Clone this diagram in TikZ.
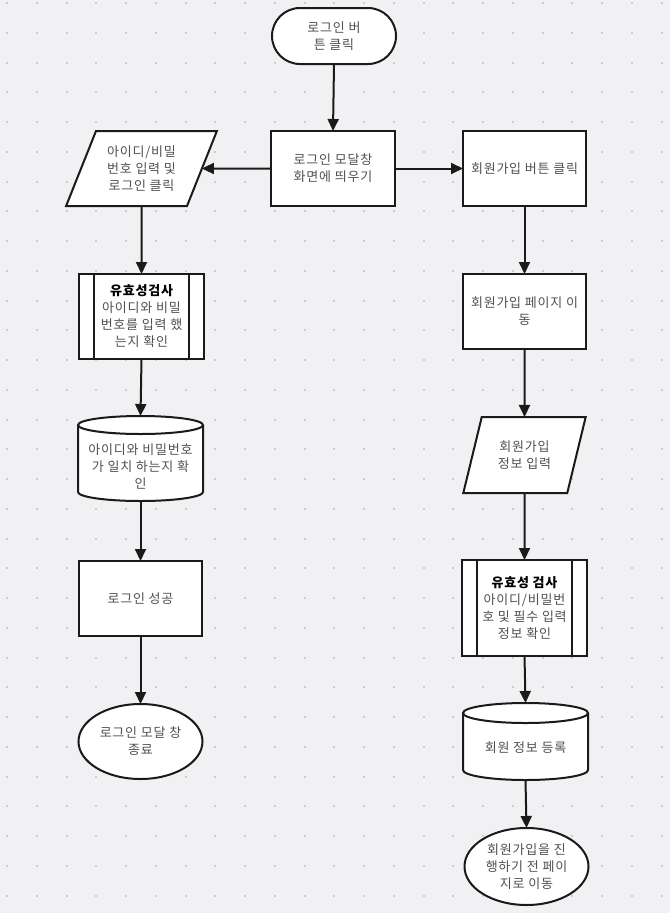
\documentclass[tikz,border=0pt]{standalone}
\usepackage{fontspec}
\setmainfont[LetterSpace=6]{Noto Sans CJK KR}
\usetikzlibrary{arrows.meta,shapes.geometric}
\definecolor{bgc}{HTML}{F1F1F3}
\definecolor{dotc}{HTML}{CDCDD1}
\definecolor{txtc}{HTML}{505050}
\definecolor{lnc}{HTML}{1A1A1A}
\pgfdeclarelayer{back}
\pgfdeclarelayer{shapes}
\pgfsetlayers{back,shapes,main}
\newcommand\drawcyl[3]{% node, half width, cap radius
  \begin{pgfonlayer}{shapes}
  \filldraw[fill=white,draw=lnc,line width=2pt]
    ([yshift=-#3]#1.north west) -- ([yshift=#3]#1.south west)
    arc[start angle=180,end angle=360,x radius=#2,y radius=#3]
    -- ([yshift=-#3]#1.north east)
    arc[start angle=0,end angle=180,x radius=#2,y radius=#3] -- cycle;
  \draw[draw=lnc,line width=2pt] ([yshift=-#3]#1.north west)
    arc[start angle=180,end angle=360,x radius=#2,y radius=#3];
  \end{pgfonlayer}}
\begin{document}
\begin{tikzpicture}[x=1pt,y=-1pt,
  font=\fontsize{13}{17}\selectfont,
  base/.style={draw=lnc,line width=2pt,fill=white,text=txtc,align=center,inner sep=0pt,outer sep=0pt},
  proc/.style={base,rectangle,minimum width=#1,minimum height=75pt},
  term/.style={base,rectangle,rounded corners=28pt,minimum width=124pt,minimum height=56pt},
  oval/.style={base,ellipse,minimum width=124pt,minimum height=#1},
  io/.style={base,trapezium,trapezium stretches=true,trapezium left angle=#1,trapezium right angle=180-#1},
  subp/.style={base,rectangle,minimum width=125pt},
  cyl/.style={inner sep=0pt,outer sep=0pt,minimum width=125pt},
  lbl/.style={text=txtc,align=center,inner sep=0pt},
  arr/.style={draw=lnc,line width=2pt,-{Triangle[length=12pt,width=11pt]}},
  sl/.style={draw=lnc,line width=2pt}]
\begin{pgfonlayer}{back}
  \fill[bgc] (0,0) rectangle (670,913);
  \foreach \i in {0,...,22}{\foreach \j in {0,...,30}{
    \fill[dotc] (6+\i*29.75,2+\j*29.75) rectangle ++(2,2);}}
\end{pgfonlayer}
\useasboundingbox (0,0) rectangle (670,913);

\node[term] (start) at (334,36) {로그인 버\\튼 클릭};
\node[proc=124pt] (modal) at (333,168.5) {로그인 모달창\\화면에 띄우기};
\node[io=63.7,minimum width=151pt,minimum height=75pt] (lpar) at (141.5,168.5) {아이디/비밀\\번호 입력 및\\로그인 클릭};
\node[proc=123pt] (rbtn) at (524.5,168.5) {회원가입 버튼 클릭};

\node[subp,minimum height=85pt] (lsub) at (141.5,316.5) {\textbf{\color{black}유효성검사}\\아이디와 비밀\\번호를 입력 했\\는지 확인};
\draw[sl] ([xshift=15pt]lsub.north west) -- ([xshift=15pt]lsub.south west);
\draw[sl] ([xshift=-15pt]lsub.north east) -- ([xshift=-15pt]lsub.south east);

\node[cyl,minimum height=85pt] (lcyl) at (140.5,458.5) {};
\drawcyl{lcyl}{62.5pt}{9pt}
\node[lbl] (lcylt) at (140.5,466) {아이디와 비밀번호\\가 일치 하는지 확\\인};

\node[proc=123pt] (lok) at (140.5,598.5) {로그인 성공};
\node[oval=75pt] (lend) at (140.5,741.5) {로그인 모달 창\\종료};

\node[proc=123pt] (rpage) at (524.5,311.5) {회원가입 페이지 이\\동};
\node[io=68.3,minimum width=123pt,minimum height=76pt] (rpar) at (524.5,455) {회원가입\\정보 입력};
\node[subp,minimum height=96pt] (rsub) at (524.5,608) {\textbf{\color{black}유효성 검사}\\아이디/비밀번\\호 및 필수 입력\\정보 확인};
\draw[sl] ([xshift=15pt]rsub.north west) -- ([xshift=15pt]rsub.south west);
\draw[sl] ([xshift=-15pt]rsub.north east) -- ([xshift=-15pt]rsub.south east);

\node[cyl,minimum height=77pt] (rcyl) at (525.5,741.5) {};
\drawcyl{rcyl}{62.5pt}{10pt}
\node[lbl] (rcylt) at (525.5,748) {회원 정보 등록};

\node[oval=77pt] (rend) at (526.5,866.5) {회원가입을 진\\행하기 전 페이\\지로 이동};

\draw[arr] (start.south) -- (modal.north);
\draw[arr] (modal.west) -- (lpar);
\draw[arr] (modal.east) -- (rbtn.west);
\draw[arr] (lpar.south) -- (lsub.north);
\draw[arr] (lsub.south) -- (lcyl.north);
\draw[arr] (lcyl.south) -- (lok.north);
\draw[arr] (lok.south) -- (lend.north);
\draw[arr] (rbtn.south) -- (rpage.north);
\draw[arr] (rpage.south) -- (rpar.north);
\draw[arr] (rpar.south) -- (rsub.north);
\draw[arr] (rsub.south) -- (rcyl.north);
\draw[arr] (rcyl.south) -- (rend.north);
\end{tikzpicture}
\end{document}
